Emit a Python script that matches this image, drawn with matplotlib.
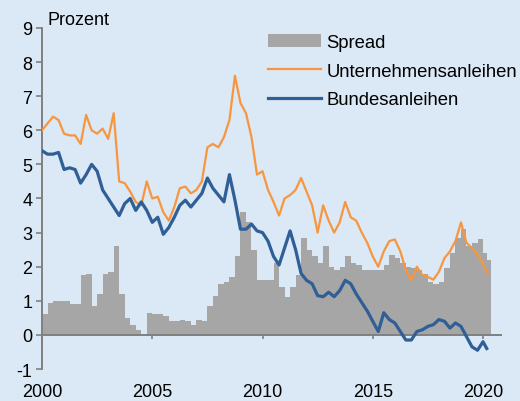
import numpy as np
import matplotlib
matplotlib.use('Agg')
from matplotlib import pyplot as plt
from matplotlib.patches import Patch
from matplotlib.lines import Line2D

# quarterly readings, last point March 2020
years = np.append(np.arange(2000, 2020.01, 0.25), 2020.17)

unternehmen = [
    6.0, 6.2, 6.4, 6.3, 5.9, 5.85, 5.85, 5.6, 6.45, 6.0, 5.9, 6.05,
    5.75, 6.5, 4.5, 4.45, 4.2, 3.9, 3.8, 4.5, 4.0, 4.05, 3.6, 3.35,
    3.75, 4.3, 4.35, 4.15, 4.25, 4.5, 5.5, 5.6, 5.5, 5.8, 6.3, 7.6,
    6.8, 6.5, 5.8, 4.7, 4.8, 4.25, 3.9, 3.5, 4.0, 4.1, 4.25, 4.6,
    4.2, 3.8, 3.0, 3.8, 3.35, 3.0, 3.3, 3.9, 3.45, 3.35, 3.0, 2.7,
    2.3, 2.0, 2.45, 2.75, 2.8, 2.45, 1.9, 1.6, 2.0, 1.75, 1.7, 1.62,
    1.85, 2.25, 2.45, 2.75, 3.3, 2.7, 2.55, 2.35, 2.1, 1.8]

bund = [
    5.4, 5.3, 5.3, 5.35, 4.85, 4.9, 4.85, 4.45, 4.7, 5.0, 4.8, 4.25,
    4.0, 3.75, 3.5, 3.85, 4.0, 3.65, 3.9, 3.65, 3.3, 3.45, 2.95, 3.15,
    3.45, 3.8, 3.95, 3.75, 3.95, 4.15, 4.6, 4.3, 4.1, 3.9, 4.7, 3.95,
    3.1, 3.1, 3.25, 3.05, 3.0, 2.75, 2.3, 2.05, 2.55, 3.05, 2.5, 1.8,
    1.6, 1.5, 1.15, 1.12, 1.25, 1.12, 1.3, 1.6, 1.5, 1.2, 0.95, 0.7,
    0.4, 0.1, 0.65, 0.45, 0.35, 0.1, -0.15, -0.15, 0.1, 0.15, 0.25, 0.3,
    0.45, 0.4, 0.2, 0.35, 0.25, -0.05, -0.35, -0.45, -0.2, -0.4]

spread = [
    0.6, 0.95, 1.0, 1.0, 1.0, 0.9, 0.9, 1.75, 1.8, 0.85, 1.2, 1.8,
    1.85, 2.6, 1.2, 0.5, 0.3, 0.15, 0.0, 0.65, 0.6, 0.6, 0.55, 0.4,
    0.4, 0.45, 0.4, 0.3, 0.45, 0.4, 0.85, 1.15, 1.5, 1.55, 1.7, 2.3,
    3.6, 3.3, 2.5, 1.6, 1.6, 1.6, 2.1, 1.4, 1.1, 1.4, 1.75, 2.85,
    2.5, 2.3, 2.1, 2.6, 2.0, 1.9, 2.0, 2.3, 2.1, 2.05, 1.9, 1.9,
    1.9, 1.9, 2.05, 2.35, 2.25, 2.1, 2.0, 1.95, 1.9, 1.8, 1.55, 1.5,
    1.55, 1.95, 2.4, 2.85, 3.1, 2.6, 2.7, 2.8, 2.4, 2.2]

bg = '#dbe8f5'
grey = '#a6a6a6'
orange = '#f7963f'
blue = '#2f5f96'

plt.rcParams['font.family'] = ['Liberation Sans', 'DejaVu Sans']
plt.rcParams['axes.unicode_minus'] = False

fig = plt.figure(figsize=(5.2, 4.02), dpi=100, facecolor=bg)
ax = fig.add_axes([0.0808, 0.0796, 0.882, 0.8483], facecolor=bg)

widths = np.append(np.diff(years), 0.17)
ax.bar(years, spread, width=widths, align='edge', color=grey, linewidth=0, zorder=1)
ax.plot(years, unternehmen, color=orange, lw=1.6, zorder=3)
ax.plot(years, bund, color=blue, lw=2.3, zorder=4)

ax.set_xlim(2000, 2020.8)
ax.set_ylim(-1, 9)
ax.set_yticks(range(-1, 10))
ax.set_xticks([2000, 2005, 2010, 2015, 2020])

for s in ['top', 'right']:
    ax.spines[s].set_visible(False)
ax.spines['left'].set_color('#808080')
ax.spines['left'].set_linewidth(1.4)
ax.spines['bottom'].set_position(('data', 0))
ax.spines['bottom'].set_color('#808080')
ax.spines['bottom'].set_linewidth(1.4)
ax.spines['bottom'].set_zorder(2)

ax.tick_params(axis='y', direction='out', length=4, width=1.2, color='#808080',
               labelsize=13, pad=3)
ax.tick_params(axis='x', direction='out', length=3, width=1.2, color='#808080',
               labelsize=13, pad=31.5)

fig.text(0.092, 0.927, 'Prozent', fontsize=13, va='bottom', ha='left')

handles = [Patch(facecolor=grey, edgecolor='none'),
           Line2D([], [], color=orange, lw=1.6),
           Line2D([], [], color=blue, lw=2.3)]
labels = ['Spread', 'Unternehmensanleihen', 'Bundesanleihen']
fig.legend(handles, labels, loc='upper left', bbox_to_anchor=(0.502, 0.932),
           frameon=False, fontsize=13.3, handlelength=2.85, handletextpad=0.3,
           labelspacing=0.64, borderaxespad=0)

fig.savefig('out.png', dpi=100, facecolor=bg)
